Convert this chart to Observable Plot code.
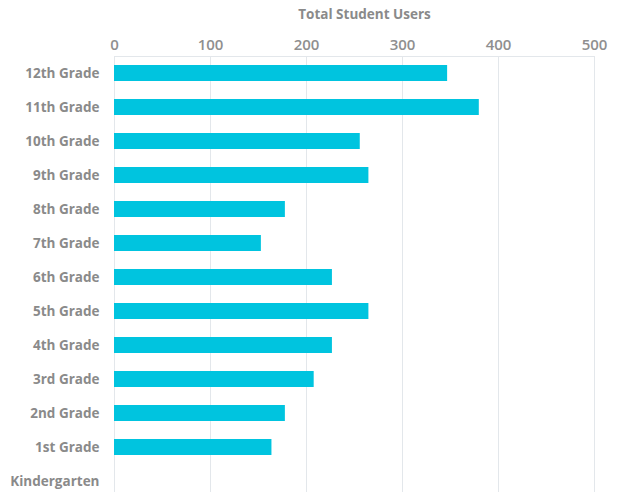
<!DOCTYPE html>
<html>
<head>
<meta charset="utf-8">
<script src="https://cdn.jsdelivr.net/npm/d3@7"></script>
<script src="https://cdn.jsdelivr.net/npm/@observablehq/plot@0.6"></script>
<style>
  html, body { margin: 0; padding: 0; background: #fff; overflow: hidden; }
  svg { display: block; }
</style>
</head>
<body>
<div id="chart"></div>
<script>
const grades = ["12th Grade", "11th Grade", "10th Grade", "9th Grade", "8th Grade", "7th Grade",
  "6th Grade", "5th Grade", "4th Grade", "3rd Grade", "2nd Grade", "1st Grade", "Kindergarten"];
const users = [347, 380, 256, 265, 178, 153, 227, 265, 227, 208, 178, 164, 0];
const xTicks = [0, 100, 200, 300, 400, 500];
const title = "Total Student Users";

const data = grades.map((g, i) => ({grade: g, users: users[i]}));

const chart = Plot.plot({
  width: 622,
  height: 492,
  marginLeft: 114,
  marginRight: 28,
  marginTop: 56,
  marginBottom: 0,
  style: {fontFamily: "'Open Sans', sans-serif", background: "#fff"},
  x: {domain: [0, 500], label: null},
  y: {domain: grades, range: [54, 500], paddingInner: 0.53, paddingOuter: 0.265, label: null},
  marks: [
    Plot.ruleX(xTicks, {stroke: "#e3e7eb", strokeWidth: 1}),
    Plot.frame({anchor: "top", stroke: "#e3e7eb"}),
    Plot.barX(data, {x: "users", y: "grade", fill: "#00c4df"}),
    Plot.axisX({anchor: "top", ticks: xTicks, tickSize: 0, tickPadding: 7, fontSize: 15, fontWeight: 600, fill: "#8f8f8f", label: null}),
    Plot.axisY({tickSize: 0, tickPadding: 15, fontSize: 13.5, fontWeight: "bold", fill: "#8a8a8a", label: null}),
    Plot.text([title], {frameAnchor: "top", dx: 10, dy: -47, fontSize: 13.5, fontWeight: "bold", fill: "#8a8a8a"})
  ]
});
document.getElementById("chart").append(chart);
</script>
</body>
</html>
